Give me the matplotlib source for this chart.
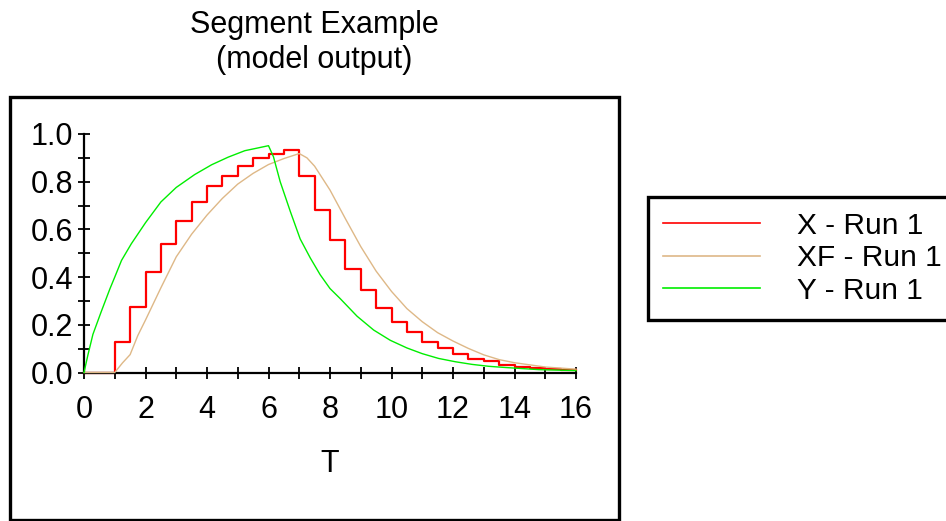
import matplotlib
matplotlib.use('Agg')
import matplotlib.pyplot as plt
from matplotlib.patches import Rectangle
from matplotlib.ticker import MultipleLocator

plt.rcParams['font.family'] = ['Liberation Sans', 'DejaVu Sans']
plt.rcParams['font.size'] = 22

# ---- text ----
title_lines = ["Segment Example", "(model output)"]
x_label = "T"
series_names = ["X - Run 1", "XF - Run 1", "Y - Run 1"]

# ---- data ----
# X: step series (value holds from each time to the next)
x_t = [0, 1, 1.5, 2, 2.5, 3, 3.5, 4, 4.5, 5, 5.5, 6, 6.5, 7, 7.5, 8, 8.5,
       9, 9.5, 10, 10.5, 11, 11.5, 12, 12.5, 13, 13.5, 14, 14.5, 15, 15.5, 16]
x_v = [0, 0.126, 0.276, 0.42, 0.539, 0.637, 0.714, 0.78, 0.825, 0.866, 0.90,
       0.916, 0.932, 0.825, 0.68, 0.555, 0.435, 0.347, 0.27, 0.211, 0.169,
       0.129, 0.103, 0.077, 0.057, 0.047, 0.032, 0.025, 0.02, 0.016, 0.012, 0.012]

# XF: smooth filtered series
xf_t = [0, 1, 1.25, 1.5, 1.75, 2, 2.5, 3, 3.5, 4, 4.5, 5, 5.5, 6, 6.5, 7,
        7.25, 7.5, 8, 8.5, 9, 9.5, 10, 10.5, 11, 11.5, 12, 12.5, 13, 13.5,
        14, 15, 16]
xf_v = [0, 0, 0.04, 0.075, 0.155, 0.22, 0.355, 0.485, 0.58, 0.66, 0.73,
        0.79, 0.835, 0.872, 0.897, 0.918, 0.9, 0.865, 0.765, 0.645, 0.528,
        0.425, 0.34, 0.268, 0.213, 0.167, 0.132, 0.101, 0.074, 0.054, 0.041,
        0.023, 0.014]

# Y: input series
y_t = [0, 0.13, 0.29, 0.56, 0.84, 1.0, 1.22, 1.54, 2.0, 2.5, 3.0, 3.6, 4.15,
       4.69, 5.23, 5.6, 6.0, 6.16, 6.38, 6.71, 7.03, 7.36, 7.68, 8.0, 8.33,
       8.88, 9.42, 9.96, 10.5, 11.0, 11.53, 12.08, 12.62, 13.16, 13.7, 14.79, 16]
y_v = [0, 0.075, 0.16, 0.255, 0.35, 0.40, 0.47, 0.54, 0.628, 0.715, 0.776,
       0.83, 0.871, 0.903, 0.93, 0.94, 0.951, 0.905, 0.80, 0.675, 0.56, 0.48,
       0.41, 0.352, 0.31, 0.236, 0.178, 0.135, 0.103, 0.079, 0.059, 0.045,
       0.034, 0.026, 0.021, 0.012, 0.008]

W, H = 946, 521
fig = plt.figure(figsize=(W / 100, H / 100), dpi=100)
fig.patch.set_facecolor('white')

ax = fig.add_axes([84 / W, (H - 372.5) / H, 492 / W, 238.5 / H])

l1, = ax.plot(x_t, x_v, drawstyle='steps-post', color='#ff0000', lw=1.6,
              clip_on=False, zorder=2)
l2, = ax.plot(xf_t, xf_v, color='#deb887', lw=1.0, clip_on=False, zorder=3)
l3, = ax.plot(y_t, y_v, color='#00ee00', lw=1.0, clip_on=False, zorder=4)

ax.set_xlim(0, 16)
ax.set_ylim(0, 1.0)
ax.xaxis.set_major_locator(MultipleLocator(2))
ax.xaxis.set_minor_locator(MultipleLocator(1))
ax.yaxis.set_major_locator(MultipleLocator(0.2))
ax.yaxis.set_minor_locator(MultipleLocator(0.1))
ax.yaxis.set_major_formatter(matplotlib.ticker.FormatStrFormatter('%.1f'))

for s in ['top', 'right']:
    ax.spines[s].set_visible(False)
for s in ['left', 'bottom']:
    ax.spines[s].set_linewidth(1.6)
    ax.spines[s].set_color('black')

ax.tick_params(axis='both', which='both', direction='inout', length=9,
               width=1.3, color='black')
ax.tick_params(axis='y', which='major', pad=3.5, labelsize=22)
ax.tick_params(axis='x', which='major', pad=12, labelsize=22)
ax.set_xlabel(x_label, fontsize=22, labelpad=17)

# titles
fig.text(314 / W, 1 - 33 / H, title_lines[0], ha='center', va='baseline', fontsize=22)
fig.text(314 / W, 1 - 68 / H, title_lines[1], ha='center', va='baseline', fontsize=22)

# outer frame around chart
fig.patches.append(Rectangle((10 / W, 1.5 / H), (619 - 10) / W, (520 - 98) / H,
                             transform=fig.transFigure, fill=False,
                             edgecolor='black', lw=2.4, figure=fig))

leg = fig.legend([l1, l2, l3], series_names, loc='upper left',
                 bbox_to_anchor=(648 / W, 1 - 197 / H),
                 bbox_transform=fig.transFigure, frameon=True, fancybox=False,
                 edgecolor='black', framealpha=1, borderpad=0.5,
                 handlelength=3.25, handletextpad=1.25, labelspacing=0.15,
                 fontsize=21.5, borderaxespad=0)
leg.get_frame().set_linewidth(2.4)
for ln in leg.get_lines():
    ln.set_linewidth(1.2)

fig.savefig('out.png', dpi=100, facecolor='white')
